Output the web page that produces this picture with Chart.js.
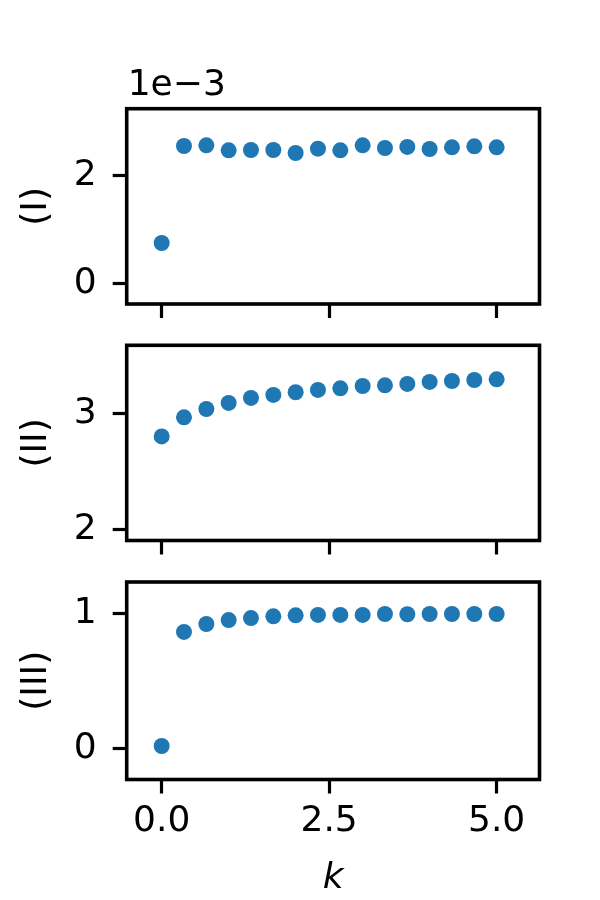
<!DOCTYPE html>
<html>
<head>
<meta charset="utf-8">
<script src="https://cdn.jsdelivr.net/npm/chart.js@4"></script>
<style>
  html, body { margin: 0; padding: 0; background: #fff; }
  #wrap { position: relative; width: 600px; height: 900px; }
  canvas { position: absolute; left: 0; top: 0; }
</style>
</head>
<body>
<div id="wrap">
  <canvas id="c1" width="600" height="900"></canvas>
  <canvas id="c2" width="600" height="900"></canvas>
  <canvas id="c3" width="600" height="900"></canvas>
</div>
<script>
// data
const kValues = [0, 0.333, 0.667, 1, 1.333, 1.667, 2, 2.333, 2.667, 3, 3.333, 3.667, 4, 4.333, 4.667, 5];
const seriesI = [0.751e-3, 2.558e-3, 2.571e-3, 2.478e-3, 2.484e-3, 2.484e-3, 2.428e-3, 2.509e-3,
                 2.478e-3, 2.571e-3, 2.521e-3, 2.540e-3, 2.502e-3, 2.534e-3, 2.552e-3, 2.534e-3];
const seriesII = [2.80, 2.965, 3.037, 3.089, 3.132, 3.158, 3.181, 3.201,
                  3.215, 3.235, 3.241, 3.253, 3.270, 3.278, 3.287, 3.293];
const seriesIII = [0.017, 0.862, 0.921, 0.950, 0.965, 0.978, 0.985, 0.988,
                   0.988, 0.988, 0.995, 0.993, 0.995, 0.995, 0.995, 0.995];

const xTicks = [0, 2.5, 5];
const xTickLabels = ['0.0', '2.5', '5.0'];
const yTicksI = [0, 2e-3];
const yTicksII = [2, 3];
const yTicksIII = [0, 1];

const FONT = '"DejaVu Sans", sans-serif';
const FS = 36;
const BLUE = '#1f77b4';

// frame around the plot area + matplotlib style offset text
const framePlugin = {
  id: 'frame',
  afterDraw(chart, args, opts) {
    const { ctx, chartArea: a } = chart;
    ctx.save();
    ctx.strokeStyle = '#000';
    ctx.lineWidth = 3.6;
    ctx.strokeRect(a.left, a.top, a.right - a.left, a.bottom - a.top);
    if (opts.offsetText) {
      ctx.font = FS + 'px ' + FONT;
      ctx.fillStyle = '#000';
      ctx.textAlign = 'left';
      ctx.textBaseline = 'alphabetic';
      ctx.fillText(opts.offsetText, a.left + 1, a.top - 14);
    }
    ctx.restore();
  }
};

function panel(id, ys, p) {
  const tickGrid = { drawOnChartArea: false, drawTicks: true, tickLength: 14, tickWidth: 3.2, tickColor: '#000' };
  return new Chart(document.getElementById(id), {
    type: 'scatter',
    data: {
      datasets: [{
        data: kValues.map((x, i) => ({ x: x, y: ys[i] })),
        backgroundColor: BLUE,
        borderWidth: 0,
        pointRadius: 8,
        pointHoverRadius: 8
      }]
    },
    options: {
      responsive: false,
      animation: false,
      events: [],
      layout: { padding: { left: 0, right: 60.5, top: p.top, bottom: 0 } },
      plugins: {
        legend: { display: false },
        tooltip: { enabled: false },
        frame: { offsetText: p.offsetText }
      },
      scales: {
        x: {
          type: 'linear',
          min: -0.522,
          max: 5.64,
          afterBuildTicks: s => { s.ticks = xTicks.map(v => ({ value: v })); },
          afterFit: s => { s.height = 900 - p.bottom; },
          grid: tickGrid,
          border: { display: false },
          ticks: {
            display: p.showX,
            padding: 7,
            color: '#000',
            font: { family: FONT, size: FS },
            maxRotation: 0,
            callback: (v, i) => xTickLabels[i]
          },
          title: {
            display: p.showX,
            text: 'k',
            color: '#000',
            font: { family: FONT, size: FS, style: 'italic' },
            padding: { top: 0, bottom: 0 }
          }
        },
        y: {
          type: 'linear',
          min: p.min,
          max: p.max,
          afterBuildTicks: s => { s.ticks = p.ticks.map(v => ({ value: v })); },
          afterFit: s => { s.width = 126.7; },
          grid: tickGrid,
          border: { display: false },
          ticks: {
            padding: 16,
            color: '#000',
            font: { family: FONT, size: FS },
            callback: v => p.fmt(v)
          },
          title: {
            display: true,
            text: p.label,
            color: '#000',
            font: { family: FONT, size: FS },
            padding: { top: 15, bottom: 0 }
          }
        }
      }
    },
    plugins: [framePlugin]
  });
}

panel('c1', seriesI, {
  top: 108.7, bottom: 304, min: -0.386e-3, max: 3.253e-3, ticks: yTicksI,
  fmt: v => String(Math.round(v * 1000)), label: '(I)', showX: false, offsetText: '1e\u22123'
});
panel('c2', seriesII, {
  top: 345.3, bottom: 540.5, min: 1.903, max: 3.586, ticks: yTicksII,
  fmt: v => String(v), label: '(II)', showX: false
});
panel('c3', seriesIII, {
  top: 582, bottom: 779.5, min: -0.231, max: 1.232, ticks: yTicksIII,
  fmt: v => String(v), label: '(III)', showX: true
});
</script>
</body>
</html>
